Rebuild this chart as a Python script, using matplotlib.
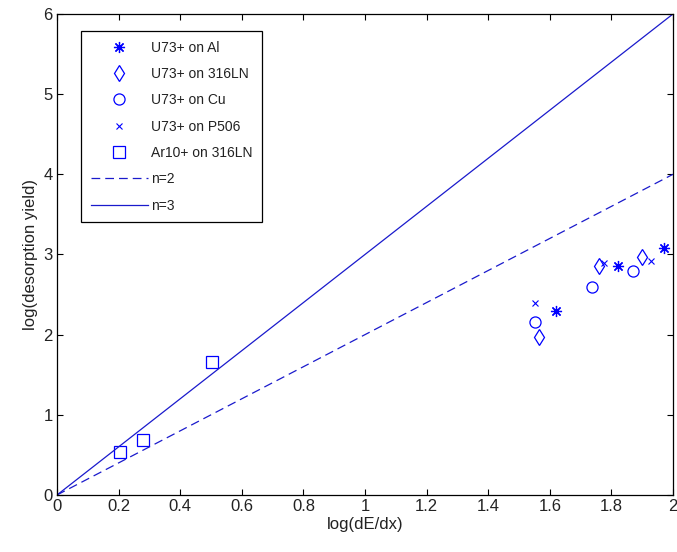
import matplotlib
matplotlib.use("Agg")
import matplotlib.pyplot as plt
import numpy as np
from matplotlib import font_manager

# Desorption yield data (log scale values)
al_x = [1.62, 1.82, 1.97]
al_y = [2.29, 2.85, 3.08]

ln316_x = [1.566, 1.76, 1.90]
ln316_y = [1.97, 2.85, 2.97]

cu_x = [1.552, 1.736, 1.87]
cu_y = [2.16, 2.59, 2.79]

p506_x = [1.552, 1.775, 1.93]
p506_y = [2.40, 2.89, 2.92]

ar_x = [0.205, 0.278, 0.504]
ar_y = [0.53, 0.69, 1.66]

model_x = [0.0, 2.0]
n_values = [2, 3]

xticks = [0, 0.2, 0.4, 0.6, 0.8, 1, 1.2, 1.4, 1.6, 1.8, 2]
xtick_labels = ["0", "0.2", "0.4", "0.6", "0.8", "1", "1.2", "1.4", "1.6", "1.8", "2"]
yticks = [0, 1, 2, 3, 4, 5, 6]

available = {f.name for f in font_manager.fontManager.ttflist}
family = "Liberation Sans Narrow" if "Liberation Sans Narrow" in available else "Liberation Sans"
plt.rcParams["font.family"] = [family, "DejaVu Sans"]

blue = (0.0, 0.0, 1.0)
line_blue = (0.1, 0.1, 0.8)

fig = plt.figure(figsize=(6.77, 5.52), dpi=100)
ax = fig.add_axes([0.0842, 0.1033, 0.9099, 0.8714])

ms_kw = dict(linestyle="none", markerfacecolor="none", markeredgecolor=blue, markeredgewidth=0.9)
ax.plot(al_x, al_y, marker=(8, 2, 0), markersize=8, label="U73+ on Al", color=blue,
        linestyle="none", markeredgewidth=0.9)
ax.plot(ln316_x, ln316_y, marker="d", markersize=8.5, label="U73+ on 316LN", **ms_kw)
ax.plot(cu_x, cu_y, marker="o", markersize=8, label="U73+ on Cu", **ms_kw)
ax.plot(p506_x, p506_y, marker="x", markersize=5, label="U73+ on P506", color=blue,
        linestyle="none", markeredgewidth=0.8)
ax.plot(ar_x, ar_y, marker="s", markersize=8, label="Ar10+ on 316LN", **ms_kw)

mx = np.array(model_x)
ax.plot(mx, n_values[0] * mx, linestyle=(0, (7, 4)), color=line_blue, linewidth=0.9, label="n=2")
ax.plot(mx, n_values[1] * mx, linestyle="-", color=line_blue, linewidth=0.9, label="n=3")

ax.set_xlim(0, 2)
ax.set_ylim(0, 6)
ax.set_xticks(xticks)
ax.set_xticklabels(xtick_labels)
ax.set_yticks(yticks)
ax.tick_params(direction="in", top=True, right=True, length=4, width=0.8,
               labelsize=12, colors="black", labelcolor="#222222", pad=3)
for s in ax.spines.values():
    s.set_linewidth(0.9)
    s.set_color("black")

ax.set_xlabel("log(dE/dx)", fontsize=12, color="#222222", labelpad=2)
ax.set_ylabel("log(desorption yield)", fontsize=12, color="#222222", labelpad=4)

leg = ax.legend(loc="upper left", bbox_to_anchor=(0.039, 0.965), fontsize=10,
                frameon=True, fancybox=False, edgecolor="black", framealpha=1,
                handlelength=4.1, handletextpad=0.25, labelspacing=0.89,
                borderpad=0.7, borderaxespad=0.0)
leg.get_frame().set_linewidth(0.9)
for t in leg.get_texts():
    t.set_color("#222222")

fig.savefig("out.png", dpi=100, facecolor="white")
